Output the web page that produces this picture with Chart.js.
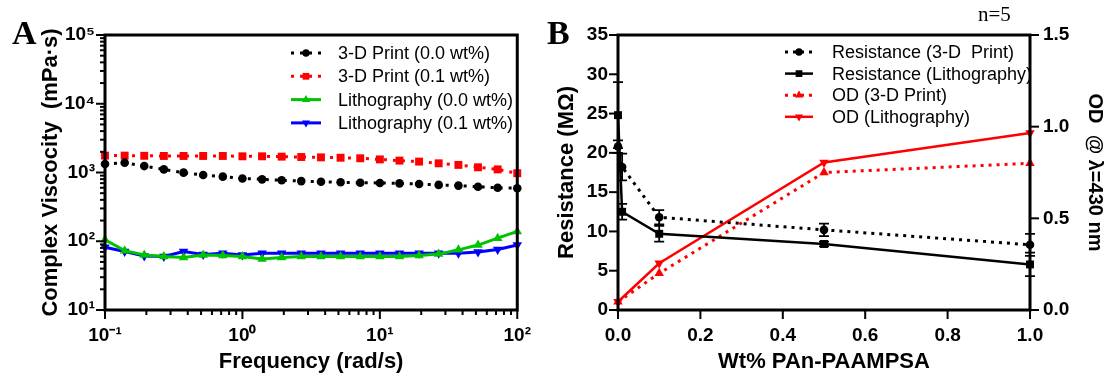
<!DOCTYPE html>
<html>
<head>
<meta charset="utf-8">
<script src="https://cdn.jsdelivr.net/npm/chart.js@4"></script>
<style>
  body { margin: 0; background: #fff; width: 1109px; height: 376px; position: relative; overflow: hidden; }
  .panel { position: absolute; top: 0; height: 376px; }
  .tag { position: absolute; font-family: "Liberation Serif", serif; font-weight: bold; font-size: 34px; line-height: 34px; }
  .note { position: absolute; font-family: "Liberation Serif", serif; font-size: 21px; line-height: 21px; }
</style>
</head>
<body>
<div class="panel" style="left:0;width:545px"><canvas id="viscosity" width="545" height="376"></canvas></div>
<div class="panel" style="left:545px;width:564px"><canvas id="resistance" width="564" height="376"></canvas></div>
<div class="tag" style="left:12px;top:16px">A</div>
<div class="tag" style="left:547px;top:16px">B</div>
<div class="note" style="left:978px;top:4px">n=5</div>
<script>
// panel A: complex viscosity vs frequency
var frequency = [0.1, 0.139, 0.193, 0.268, 0.373, 0.518, 0.72, 1.0, 1.39, 1.93, 2.68, 3.73, 5.18, 7.2, 10, 13.9, 19.3, 26.8, 37.3, 51.8, 72, 100];
var print00 = [1330, 1390, 1240, 1110, 995, 920, 870, 820, 795, 770, 750, 735, 720, 710, 705, 695, 680, 660, 645, 620, 600, 590];
var print01 = [1760, 1760, 1750, 1740, 1740, 1740, 1740, 1720, 1720, 1700, 1680, 1660, 1640, 1610, 1550, 1490, 1440, 1360, 1290, 1190, 1110, 975];
var litho00 = [105, 73, 63, 60, 58, 63, 62, 60, 55, 58, 60, 60, 60, 60, 60, 60, 62, 65, 75, 88, 111, 139];
var litho01 = [82, 71, 61, 60, 71, 64, 67, 63, 67, 67, 67, 67, 67, 67, 67, 67, 67, 67, 67, 70, 76, 88];

// panel B: resistance and OD vs wt%
var wtPercent = [0, 0.01, 0.1, 0.5, 1.0];
var resPrint = [20.8, 18.2, 11.8, 10.2, 8.3];
var resPrintErr = [0.8, 1.7, 0.9, 0.8, 1.4];
var resLitho = [24.8, 12.5, 9.7, 8.4, 5.8];
var resLithoErr = [4.2, 1.0, 1.0, 0.3, 1.5];
var odWt = [0, 0.1, 0.5, 1.0];
var odPrint = [0.045, 0.2, 0.75, 0.8];
var odLitho = [0.045, 0.255, 0.805, 0.965];

Chart.defaults.color = '#000';
Chart.defaults.font.family = '"Liberation Sans", Arial, sans-serif';

function pts(xs, ys) {
  return xs.map(function (x, i) { return { x: x, y: ys[i] }; });
}

var supers = { '-': '\u207B', '0': '\u2070', '1': '\u00B9', '2': '\u00B2', '3': '\u00B3', '4': '\u2074', '5': '\u2075' };
function powerLabel(v) {
  var p = Math.round(Math.log10(v));
  if (Math.abs(v - Math.pow(10, p)) > 1e-6 * v) return '';
  return '10' + String(p).split('').map(function (c) { return supers[c]; }).join('');
}
function logTicks(scale) {
  var list = [];
  var lo = Math.round(Math.log10(scale.min)), hi = Math.round(Math.log10(scale.max));
  for (var p = lo; p < hi; p++) {
    for (var m = 1; m < 10; m++) list.push({ value: m * Math.pow(10, p) });
  }
  list.push({ value: Math.pow(10, hi) });
  scale.ticks = list;
}

// tick marks (long for labelled, short for minor) and the box round the plot
var axisFrame = {
  id: 'axisFrame',
  afterDraw: function (chart) {
    var ctx = chart.ctx, a = chart.chartArea;
    ctx.save();
    ctx.strokeStyle = '#000';
    ctx.lineWidth = 2;
    Object.keys(chart.scales).forEach(function (id) {
      var s = chart.scales[id];
      s.ticks.forEach(function (t) {
        var len = t.label === '' ? 5 : 9;
        var p = s.getPixelForValue(t.value);
        ctx.beginPath();
        if (s.isHorizontal()) {
          ctx.moveTo(p, a.bottom); ctx.lineTo(p, a.bottom + len);
        } else if (s.position === 'left') {
          ctx.moveTo(a.left, p); ctx.lineTo(a.left - len, p);
        } else {
          ctx.moveTo(a.right, p); ctx.lineTo(a.right + len, p);
        }
        ctx.stroke();
      });
    });
    ctx.lineWidth = 3;
    ctx.strokeRect(a.left, a.top, a.right - a.left, a.bottom - a.top);
    ctx.restore();
  }
};

// vertical error bars with caps
var errorBars = {
  id: 'errorBars',
  afterDatasetsDraw: function (chart) {
    var ctx = chart.ctx;
    ctx.save();
    chart.data.datasets.forEach(function (ds, i) {
      if (!ds.errors) return;
      var meta = chart.getDatasetMeta(i);
      var ys = chart.scales[meta.yAxisID];
      ctx.strokeStyle = ds.borderColor;
      ctx.lineWidth = 1.8;
      meta.data.forEach(function (el, j) {
        var v = ds.data[j].y, e = ds.errors[j];
        var top = ys.getPixelForValue(v + e), bot = ys.getPixelForValue(v - e);
        ctx.beginPath();
        ctx.moveTo(el.x, top); ctx.lineTo(el.x, bot);
        ctx.moveTo(el.x - 5, top); ctx.lineTo(el.x + 5, top);
        ctx.moveTo(el.x - 5, bot); ctx.lineTo(el.x + 5, bot);
        ctx.stroke();
      });
    });
    ctx.restore();
  }
};

// legend drawn inside the plot, top right
var boxLegend = {
  id: 'boxLegend',
  afterDraw: function (chart, args, opts) {
    var ctx = chart.ctx;
    chart.data.datasets.forEach(function (ds, i) {
      var y = opts.top + i * opts.rowGap;
      ctx.save();
      ctx.strokeStyle = ds.borderColor;
      ctx.lineWidth = ds.borderWidth;
      ctx.setLineDash(ds.borderDash || []);
      ctx.beginPath();
      ctx.moveTo(opts.left, y); ctx.lineTo(opts.left + opts.lineLen, y);
      ctx.stroke();
      ctx.setLineDash([]);
      ctx.fillStyle = ds.pointBackgroundColor;
      Chart.helpers.drawPoint(ctx, {
        pointStyle: ds.pointStyle, radius: ds.pointRadius * 0.85,
        rotation: ds.pointRotation || 0, borderWidth: 0
      }, opts.left + opts.lineLen / 2, y);
      ctx.fillStyle = '#000';
      ctx.font = opts.fontSize + 'px "Liberation Sans", Arial, sans-serif';
      ctx.textBaseline = 'middle';
      ctx.fillText(ds.label, opts.left + opts.lineLen + opts.gap, y + 1);
      ctx.restore();
    });
  }
};

var tickFont = { size: 19, weight: 'bold' };
var titleFont = { size: 22, weight: 'bold' };

function series(label, xs, ys, color, style, r, dash, width, rot) {
  return {
    label: label, data: pts(xs, ys), borderColor: color, backgroundColor: color,
    pointBackgroundColor: color, pointBorderColor: color, pointBorderWidth: 0,
    pointStyle: style, pointRadius: r, pointRotation: rot || 0,
    borderWidth: width, borderDash: dash, tension: 0, clip: false
  };
}

new Chart(document.getElementById('viscosity'), {
  type: 'line',
  data: {
    datasets: [
      series('3-D Print (0.0 wt%)', frequency, print00, '#000000', 'circle', 4.3, [3, 6], 3),
      series('3-D Print (0.1 wt%)', frequency, print01, '#ff0000', 'rect', 5.6, [3, 6], 3),
      series('Lithography (0.0 wt%)', frequency, litho00, '#00c400', 'triangle', 5.5, [], 3),
      series('Lithography (0.1 wt%)', frequency, litho01, '#0000ff', 'triangle', 5.5, [], 3, 180)
    ]
  },
  options: {
    responsive: false,
    animation: false,
    layout: { padding: { top: 35, right: 27, left: 0, bottom: 0 } },
    plugins: {
      legend: { display: false },
      tooltip: { enabled: false },
      boxLegend: { left: 291, top: 53, rowGap: 23.3, lineLen: 30, gap: 17, fontSize: 18 }
    },
    scales: {
      x: {
        type: 'logarithmic', min: 0.1, max: 100,
        afterBuildTicks: logTicks,
        afterFit: function (s) { s.height = 66; },
        grid: { display: false, drawTicks: false },
        border: { display: false },
        ticks: { autoSkip: false, maxRotation: 0, padding: 14, font: tickFont, callback: powerLabel },
        title: { display: true, text: 'Frequency (rad/s)', font: titleFont, padding: { top: 0, bottom: 1 } }
      },
      y: {
        type: 'logarithmic', min: 10, max: 100000,
        afterBuildTicks: logTicks,
        afterFit: function (s) { s.width = 105; },
        grid: { display: false, drawTicks: false },
        border: { display: false },
        ticks: { autoSkip: false, padding: 10, font: tickFont, callback: powerLabel },
        title: { display: true, text: 'Complex Viscocity  (mPa\u00B7s)', font: titleFont, padding: { top: 38, bottom: 0 } }
      }
    }
  },
  plugins: [axisFrame, boxLegend]
});

var resPrintSet = series('Resistance (3-D  Print)', wtPercent, resPrint, '#000000', 'circle', 4.3, [3, 5], 3);
resPrintSet.errors = resPrintErr;
var resLithoSet = series('Resistance (Lithography)', wtPercent, resLitho, '#000000', 'rect', 5.6, [], 2.5);
resLithoSet.errors = resLithoErr;
var odPrintSet = series('OD (3-D Print)', odWt, odPrint, '#ff0000', 'triangle', 5.5, [3, 5], 3);
odPrintSet.yAxisID = 'y1';
var odLithoSet = series('OD (Lithography)', odWt, odLitho, '#ff0000', 'triangle', 5.5, [], 2.5, 180);
odLithoSet.yAxisID = 'y1';

new Chart(document.getElementById('resistance'), {
  type: 'line',
  data: { datasets: [resPrintSet, resLithoSet, odPrintSet, odLithoSet] },
  options: {
    responsive: false,
    animation: false,
    layout: { padding: { top: 35, right: 0, left: 0, bottom: 0 } },
    plugins: {
      legend: { display: false },
      tooltip: { enabled: false },
      boxLegend: { left: 240, top: 52, rowGap: 21.6, lineLen: 28, gap: 19, fontSize: 18 }
    },
    scales: {
      x: {
        type: 'linear', min: 0, max: 1,
        afterFit: function (s) { s.height = 66; },
        grid: { display: false, drawTicks: false },
        border: { display: false },
        ticks: { stepSize: 0.2, maxRotation: 0, padding: 14, font: tickFont,
          callback: function (v) { return v.toFixed(1); } },
        title: { display: true, text: 'Wt% PAn-PAAMPSA', font: titleFont, padding: { top: 0, bottom: 1 } }
      },
      y: {
        type: 'linear', position: 'left', min: 0, max: 35,
        afterFit: function (s) { s.width = 73; },
        grid: { display: false, drawTicks: false },
        border: { display: false },
        ticks: { stepSize: 5, padding: 10, font: tickFont },
        title: { display: true, text: 'Resistance (M\u03A9)', font: titleFont, padding: { top: 9, bottom: 0 } }
      },
      y1: {
        type: 'linear', position: 'right', min: 0, max: 1.5,
        afterFit: function (s) { s.width = 79; },
        grid: { display: false, drawTicks: false },
        border: { display: false },
        ticks: { stepSize: 0.5, padding: 13, font: tickFont,
          callback: function (v) { return v.toFixed(1); } },
        title: { display: true, text: 'OD  @ \u03BB=430 nm', font: { size: 20, weight: 'bold' }, padding: { top: 2, bottom: 0 } }
      }
    }
  },
  plugins: [axisFrame, errorBars, boxLegend]
});
</script>
</body>
</html>
